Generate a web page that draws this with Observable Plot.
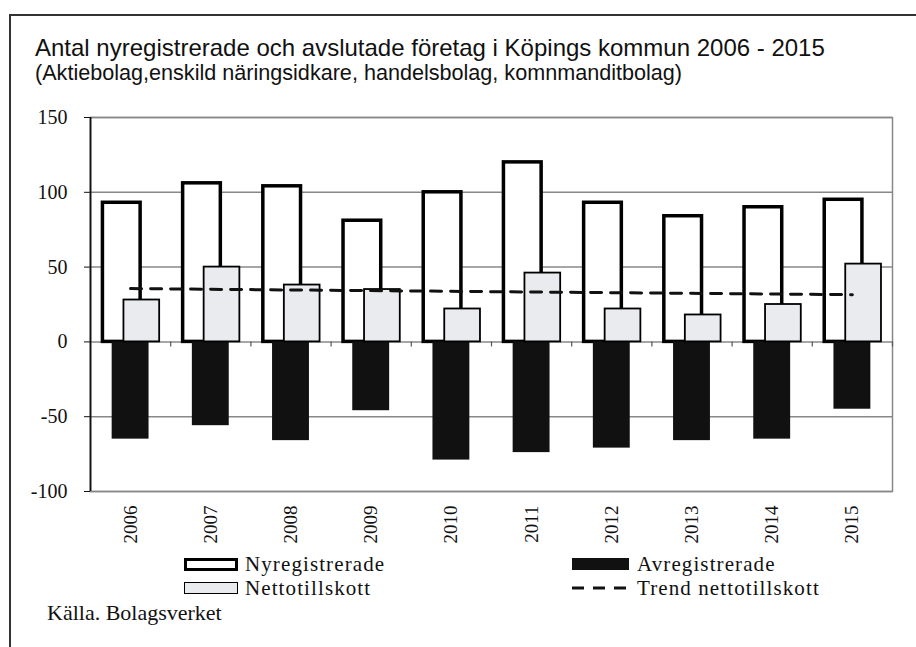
<!DOCTYPE html>
<html><head><meta charset="utf-8">
<script src="https://cdn.jsdelivr.net/npm/d3@7"></script>
<script src="https://cdn.jsdelivr.net/npm/@observablehq/plot@0.6"></script>
<style>
body{margin:0;background:#fff;}
#wrap{position:relative;width:916px;height:647px;overflow:hidden;background:#fff;}
#border{position:absolute;left:9px;top:14px;width:1000px;height:700px;border-left:2px solid #333;border-top:2px solid #333;}
.t{position:absolute;white-space:nowrap;color:#111;}
#title{left:35px;top:36px;font:24px "Liberation Sans",Arial,sans-serif;line-height:24px;}
#subtitle{left:35px;top:62px;font:21.6px "Liberation Sans",Arial,sans-serif;line-height:21px;}
#chart{position:absolute;left:0;top:107px;}
.leg{font:21px "Liberation Serif","Times New Roman",serif;line-height:20px;letter-spacing:1.1px;}
.sw{position:absolute;box-sizing:border-box;}
#source{left:47px;top:602px;font:22px "Liberation Serif","Times New Roman",serif;line-height:22px;}
</style></head>
<body>
<div id="wrap">
  <div id="border"></div>
  <div class="t" id="title">Antal nyregistrerade och avslutade företag i Köpings kommun 2006 - 2015</div>
  <div class="t" id="subtitle">(Aktiebolag,enskild näringsidkare, handelsbolag, komnmanditbolag)</div>
  <div id="chart"></div>
  <div class="sw" style="left:184px;top:558px;width:54px;height:13px;border:3px solid #000;background:#fff;"></div>
  <div class="t leg" style="left:245px;top:554px;">Nyregistrerade</div>
  <div class="sw" style="left:184px;top:582px;width:54px;height:12px;border:1.5px solid #000;background:#e9ebee;"></div>
  <div class="t leg" style="left:245px;top:578px;">Nettotillskott</div>
  <div class="sw" style="left:572px;top:558px;width:57px;height:12px;background:#111;"></div>
  <div class="t leg" style="left:637px;top:554px;">Avregistrerade</div>
  <svg class="sw" style="left:572px;top:583px;" width="58" height="10"><line x1="0" x2="58" y1="5" y2="5" stroke="#111" stroke-width="3" stroke-dasharray="12,9"/></svg>
  <div class="t leg" style="left:637px;top:578px;">Trend nettotillskott</div>
  <div class="t" id="source">Källa. Bolagsverket</div>
</div>
<script>
const years  = [2006, 2007, 2008, 2009, 2010, 2011, 2012, 2013, 2014, 2015];
const nyreg  = [93, 106, 104, 81, 100, 120, 93, 84, 90, 95];
const avreg  = [65, 56, 66, 46, 79, 74, 71, 66, 65, 45];
const netto  = [28, 50, 38, 35, 22, 46, 22, 18, 25, 52];
const yTicks = [-100, -50, 0, 50, 100, 150];

const data = years.map((year, i) => ({year, ny: nyreg[i], av: -avreg[i], netto: netto[i]}));
const xDomain = [d3.min(years) - 0.5, d3.max(years) + 0.5];
const bounds = years.map(y => y + 0.5);

const chart = Plot.plot({
  width: 916,
  height: 444,
  marginLeft: 90,
  marginRight: 24,
  marginTop: 10,
  marginBottom: 60,
  style: {fontFamily: '"Liberation Serif","Times New Roman",serif', fontSize: "20px", color: "#111", background: "transparent"},
  x: {domain: xDomain, label: null},
  y: {domain: [d3.min(yTicks), d3.max(yTicks)], label: null},
  marks: [
    Plot.ruleY(yTicks, {stroke: "#888", strokeWidth: 1.5}),
    Plot.frame({stroke: "#888", strokeWidth: 1.5}),
    Plot.rect(data, {x1: d => d.year - 0.345, x2: d => d.year + 0.125, y1: 0, y2: "ny", fill: "white", stroke: "#000", strokeWidth: 3.5}),
    Plot.rect(data, {x1: d => d.year - 0.23, x2: d => d.year + 0.23, y1: 0, y2: "av", fill: "#111"}),
    Plot.rect(data, {x1: d => d.year - 0.083, x2: d => d.year + 0.3625, y1: 0, y2: "netto", fill: "#e9ebee", stroke: "#000", strokeWidth: 1.8}),
    Plot.ruleX(bounds, {y1: 0, y2: 0, insetBottom: -5, stroke: "#555", strokeWidth: 1.2}),
    Plot.ruleX([xDomain[0]], {stroke: "#111", strokeWidth: 1.8}),
    Plot.linearRegressionY(data, {x: "year", y: "netto", ci: 0, stroke: "#111", strokeWidth: 3, strokeDasharray: "11,9"}),
    Plot.axisY({ticks: yTicks, tickSize: 6, tickPadding: 17, fontSize: 20, label: null, tickFormat: d => String(d)}),
    Plot.axisX({ticks: years, tickSize: 0, tickPadding: 14, tickRotate: -90, fontSize: 19, label: null, tickFormat: d => String(d)})
  ]
});
document.getElementById("chart").appendChild(chart);
</script>
</body></html>
